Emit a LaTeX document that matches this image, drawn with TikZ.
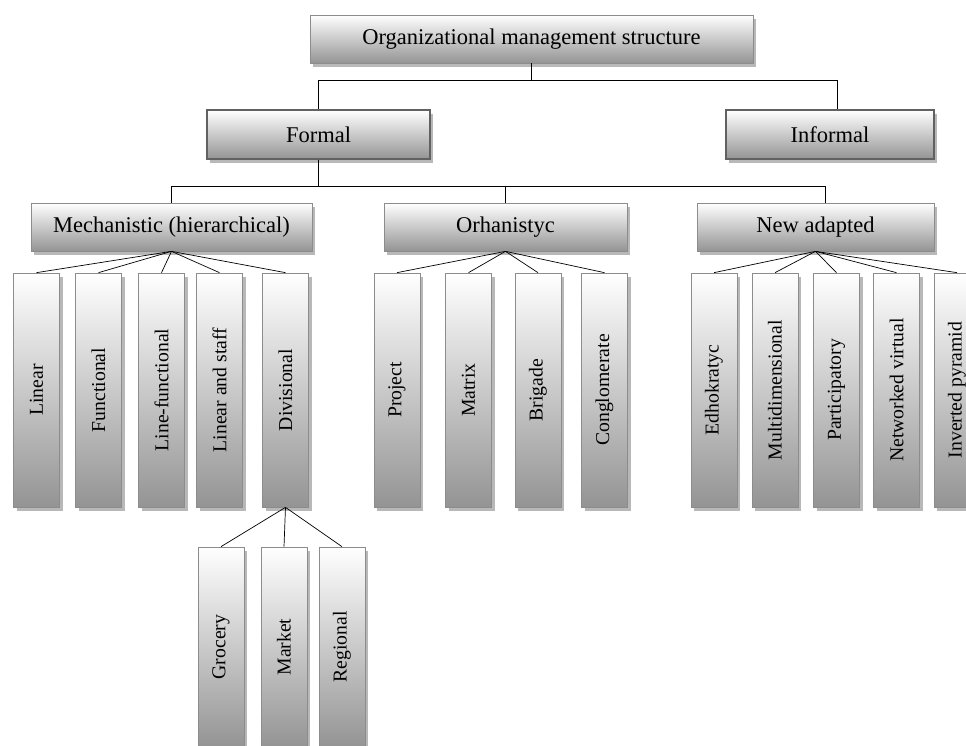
\documentclass[tikz,border=0pt]{standalone}
\usepackage{fontspec}
\setmainfont{Liberation Serif}
\usetikzlibrary{shadows}

\begin{document}
\begin{tikzpicture}[x=1pt,y=-1pt,
    hbox/.style={draw=black!45, line width=0.7pt, top color=white, bottom color=black!42,
      drop shadow={shadow xshift=3pt,shadow yshift=-4pt,fill=black!28,opacity=1},
      inner sep=0pt, minimum height=48pt, font=\fontsize{22.5}{27}\selectfont},
    keybox/.style={hbox, draw=black!62, line width=1.6pt, minimum height=49pt},
    vbox/.style={hbox, minimum width=46pt, minimum height=234pt, font=\fontsize{19.7}{24}\selectfont},
    link/.style={black, line width=0.7pt}]
    \clip (0,0) rectangle (966,745);

    \node[hbox, minimum width=443pt] (top) at (531.5,39) {Organizational management structure};

    \node[keybox, minimum width=223pt] (formal) at (318.5,134.5) {Formal};
    \node[keybox, minimum width=208pt] (informal) at (830,134.5) {Informal};

    \node[hbox, minimum width=281pt] (mech) at (171.5,227) {Mechanistic (hierarchical)};
    \node[hbox, minimum width=243pt] (orh) at (505.5,227) {Orhanistyc};
    \node[hbox, minimum width=237pt] (newad) at (815.5,227) {New adapted};

    \node[vbox] (linear) at (36.5,390) {\rotatebox{90}{Linear}};
    \node[vbox] (functional) at (98.5,390) {\rotatebox{90}{Functional}};
    \node[vbox] (linefunc) at (161.5,390) {\rotatebox{90}{Line-functional}};
    \node[vbox] (linstaff) at (219.5,390) {\rotatebox{90}{Linear and staff}};
    \node[vbox] (divisional) at (285.5,390) {\rotatebox{90}{Divisional}};

    \node[vbox] (project) at (397,390) {\rotatebox{90}{Project}};
    \node[vbox] (matrix) at (468.5,390) {\rotatebox{90}{Matrix}};
    \node[vbox] (brigade) at (538,390) {\rotatebox{90}{Brigade}};
    \node[vbox] (conglom) at (604.5,390) {\rotatebox{90}{Conglomerate}};

    \node[vbox] (edhok) at (714,390) {\rotatebox{90}{Edhokratyc}};
    \node[vbox] (multidim) at (775,390) {\rotatebox{90}{Multidimensional}};
    \node[vbox] (particip) at (836.5,390) {\rotatebox{90}{Participatory}};
    \node[vbox] (netvirt) at (896.5,390) {\rotatebox{90}{Networked virtual}};
    \node[vbox] (invpyr) at (957,390) {\rotatebox{90}{Inverted pyramid}};

    \node[vbox, minimum height=200pt] (grocery) at (221,647) {\rotatebox{90}{Grocery}};
    \node[vbox, minimum height=200pt] (market) at (284,647) {\rotatebox{90}{Market}};
    \node[vbox, minimum height=200pt] (regional) at (342,647) {\rotatebox{90}{Regional}};

    \draw[link] (top.south) -- ++(0,17) coordinate (bus1);
    \draw[link] (formal.north) |- (bus1) -| ([xshift=7pt]informal.north);
    \draw[link] (formal.south) -- ++(0,27) coordinate (bus2);
    \draw[link] (mech.north) |- (bus2) -| ([xshift=10pt]newad.north);
    \draw[link] (bus2 -| orh.north) -- (orh.north);

    \foreach \k in {linear,functional,linefunc,linstaff,divisional}
        \draw[link] (mech.south) -- (\k.north);
    \foreach \k in {project,matrix,brigade,conglom}
        \draw[link] (orh.south) -- (\k.north);
    \foreach \k in {edhok,multidim,particip,netvirt,invpyr}
        \draw[link] (newad.south) -- (\k.north);
    \foreach \k in {grocery,market,regional}
        \draw[link] (divisional.south) -- (\k.north);
\end{tikzpicture}
\end{document}
